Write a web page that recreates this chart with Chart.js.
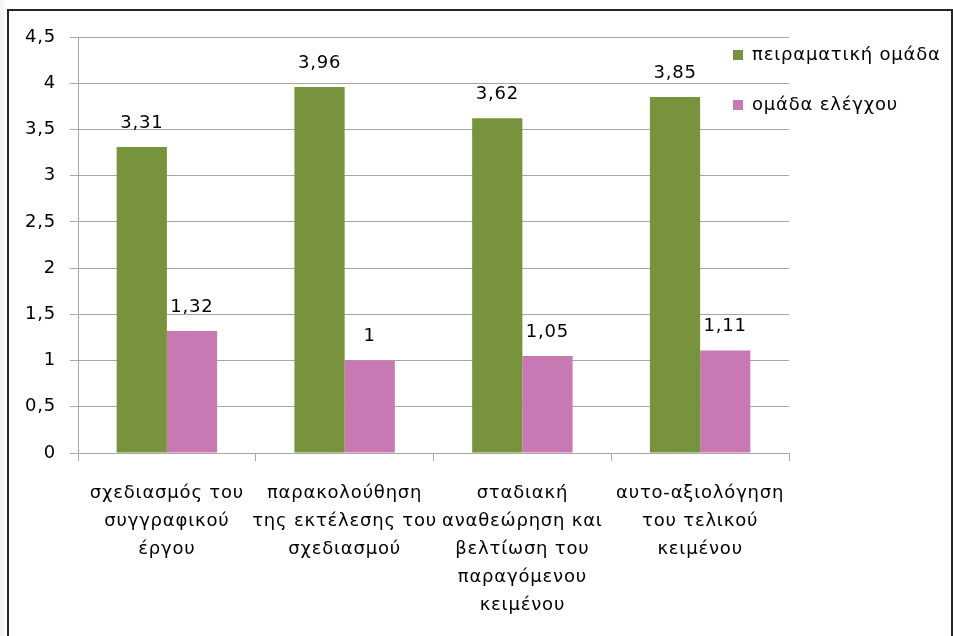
<!DOCTYPE html>
<html>
<head>
<meta charset="utf-8">
<script src="https://cdn.jsdelivr.net/npm/chart.js@4.4.1/dist/chart.umd.min.js"></script>
<style>
  html, body { margin: 0; padding: 0; background: #ffffff; }
  #wrap { position: relative; width: 953px; height: 636px; overflow: hidden;
          background: linear-gradient(to right, #f2f2f2 0px, #ffffff 7px); }
  #frame { position: absolute; left: 7px; top: 9px; width: 942px; height: 700px;
           border-left: 2px solid #262626; border-top: 2px solid #262626; border-right: 2px solid #262626;
           background: #ffffff; }
  #c { position: absolute; left: 0; top: 0; }
</style>
</head>
<body>
<div id="wrap">
  <div id="frame"></div>
  <canvas id="c" width="953" height="636"></canvas>
</div>
<script>
const categories = [
  ['σχεδιασμός του', 'συγγραφικού', 'έργου'],
  ['παρακολούθηση', 'της εκτέλεσης του', 'σχεδιασμού'],
  ['σταδιακή', 'αναθεώρηση και', 'βελτίωση του', 'παραγόμενου', 'κειμένου'],
  ['αυτο-αξιολόγηση', 'του τελικού', 'κειμένου']
];
const experimentalGroup = [3.31, 3.96, 3.62, 3.85];
const controlGroup = [1.32, 1.00, 1.05, 1.11];
const seriesNames = ['πειραματική ομάδα', 'ομάδα ελέγχου'];
const seriesColors = ['#77933c', '#c879b4'];

const FONT = '"DejaVu Sans", "Noto Sans", sans-serif';
const SIZE = 18;
const fmt = v => String(v).replace('.', ',');

// slightly looser tracking for all chart text
const tracking = {
  id: 'tracking',
  beforeDraw(chart) { chart.ctx.letterSpacing = '0.8px'; }
};

// value labels above each bar
const valueLabels = {
  id: 'valueLabels',
  afterDatasetsDraw(chart) {
    const ctx = chart.ctx;
    ctx.save();
    ctx.font = SIZE + 'px ' + FONT;
    ctx.fillStyle = '#000';
    ctx.textAlign = 'center';
    ctx.textBaseline = 'middle';
    chart.data.datasets.forEach((ds, i) => {
      chart.getDatasetMeta(i).data.forEach((bar, j) => {
        ctx.fillText(fmt(ds.data[j]), bar.x, bar.y - 24);
      });
    });
    ctx.restore();
  }
};

// legend drawn at the top right, over the plot area
const sideLegend = {
  id: 'sideLegend',
  afterDraw(chart) {
    const ctx = chart.ctx;
    ctx.save();
    ctx.font = SIZE + 'px ' + FONT;
    ctx.textBaseline = 'middle';
    ctx.textAlign = 'left';
    const x0 = 733;
    seriesNames.forEach((name, i) => {
      const y = 55 + i * 50;
      ctx.fillStyle = seriesColors[i];
      ctx.fillRect(x0, y - 5, 10, 10);
      ctx.fillStyle = '#000';
      ctx.fillText(name, x0 + 19, y);
    });
    ctx.restore();
  }
};

new Chart(document.getElementById('c'), {
  type: 'bar',
  data: {
    labels: categories,
    datasets: [
      { label: seriesNames[0], data: experimentalGroup, backgroundColor: seriesColors[0] },
      { label: seriesNames[1], data: controlGroup, backgroundColor: seriesColors[1] }
    ]
  },
  options: {
    responsive: false,
    animation: false,
    layout: { padding: { left: 0, right: 164, top: 37, bottom: 0 } },
    datasets: { bar: { categoryPercentage: 0.565, barPercentage: 1.0 } },
    plugins: { legend: { display: false }, tooltip: { enabled: false } },
    scales: {
      y: {
        min: 0, max: 4.5,
        ticks: { stepSize: 0.5, color: '#000', padding: 14,
                 font: { family: FONT, size: SIZE },
                 callback: v => fmt(v) },
        grid: { color: '#a6a6a6', lineWidth: 1, tickLength: 8 },
        border: { color: '#a6a6a6', width: 1 },
        afterFit: s => { s.width = 78; }
      },
      x: {
        ticks: { color: '#000', padding: 18, maxRotation: 0, autoSkip: false,
                 font: { family: FONT, size: SIZE, lineHeight: 1.56 } },
        grid: { drawOnChartArea: false, drawTicks: true, tickLength: 8, color: '#a6a6a6' },
        border: { color: '#a6a6a6', width: 1 },
        afterFit: s => { s.height = 636 - 453; }
      }
    }
  },
  plugins: [tracking, valueLabels, sideLegend]
});
</script>
</body>
</html>
